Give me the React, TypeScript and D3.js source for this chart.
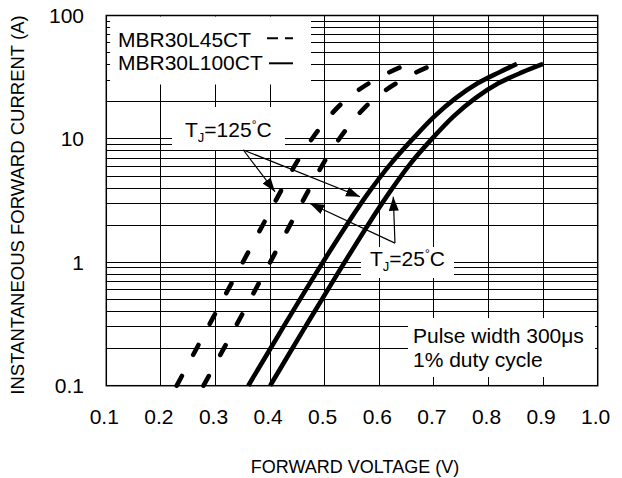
import React from "react";
import * as d3 from "d3";

// ---- data ----
const xTickValues = [0.1, 0.2, 0.3, 0.4, 0.5, 0.6, 0.7, 0.8, 0.9, 1.0];
const xTickLabels = ["0.1", "0.2", "0.3", "0.4", "0.5", "0.6", "0.7", "0.8", "0.9", "1.0"];
const yTickValues = [0.1, 1, 10, 100];
const yTickLabels = ["0.1", "1", "10", "100"];

const currents = [0.1, 0.278, 0.762, 2.0, 3.65, 6.22, 9.86, 15.1, 21.4, 28.2, 34.7, 40.5];
const l100ct125V = [0.36, 0.42, 0.48, 0.54, 0.58, 0.62, 0.66, 0.70, 0.74, 0.78, 0.82, 0.852];
const l100ct25V = [0.40, 0.46, 0.52, 0.579, 0.618, 0.656, 0.695, 0.735, 0.776, 0.818, 0.862, 0.90];

const currents45 = [0.1, 0.219, 0.468, 1.0, 2.14, 3.8, 6.61, 10.5, 15.5, 21.9, 31.6, 40.5];
const l45ct125V = [0.229, 0.27, 0.31, 0.35, 0.39, 0.42, 0.45, 0.48, 0.51, 0.545, 0.60, 0.653];
const l45ct25V = [0.278, 0.32, 0.36, 0.40, 0.44, 0.47, 0.50, 0.53, 0.56, 0.595, 0.65, 0.702];

// arrow annotations [fromV, fromI, toV, toI]
const arrows125 = [
  [0.351, 8.13, 0.409, 3.73],
  [0.351, 8.13, 0.5646, 3.4],
];
const arrows25 = [
  [0.6287, 1.43, 0.4731, 3.0],
  [0.6287, 1.43, 0.6256, 3.4],
];

const FONT = "'Liberation Sans', Arial, Helvetica, sans-serif";

export default function App() {
  const W = 622, H = 478;
  const left = 106.3, right = 597.7, top = 15.5, bottom = 385.7;
  const x = d3.scaleLinear().domain([0.1, 1.0]).range([left, right]);
  const y = d3.scaleLog().domain([0.1, 100]).range([bottom, top]);

  const line = d3
    .line<[number, number]>()
    .x((d) => x(d[0]))
    .y((d) => y(d[1]))
    .curve(d3.curveCatmullRom.alpha(0.5));

  const zip = (vs: number[], is: number[]) => vs.map((v, i) => [v, is[i]] as [number, number]);

  const hGrid: number[] = [];
  [0.1, 1, 10].forEach((dec) => {
    for (let k = 1; k <= 9; k++) hGrid.push(dec * k);
  });
  const vGrid = xTickValues.slice(1, -1);

  return (
    <svg
      width={W}
      height={H}
      style={{ position: "absolute", left: 0, top: 0, background: "#fff" }}
      fontFamily={FONT}
    >
      <defs>
        <marker
          id="ah"
          markerUnits="userSpaceOnUse"
          markerWidth={15}
          markerHeight={11}
          refX={14}
          refY={5}
          orient="auto"
        >
          <path d="M0,0 L14,5 L0,10 Z" fill="#000" />
        </marker>
      </defs>
      <rect x={0} y={0} width={W} height={H} fill="#fff" />
      {/* grid */}
      <g stroke="#000" strokeWidth={1} shapeRendering="crispEdges">
        {hGrid.map((v, i) => (
          <line key={"h" + i} x1={left} x2={right} y1={y(v)} y2={y(v)} />
        ))}
        {vGrid.map((v, i) => (
          <line key={"v" + i} x1={x(v)} x2={x(v)} y1={top} y2={bottom} />
        ))}
      </g>
      {/* white label boxes */}
      <g fill="#fff">
        <rect x={110} y={top + 1} width={201} height={68} />
        <rect x={172} y={107} width={113} height={43} />
        <rect x={361} y={247} width={93} height={31} />
        <rect x={408} y={318} width={187} height={59} />
      </g>
      {/* curves */}
      <g fill="none" stroke="#000" strokeWidth={4.6}>
        <path d={line(zip(l100ct125V, currents)) || ""} />
        <path d={line(zip(l100ct25V, currents)) || ""} />
        <path
          d={line(zip(l45ct125V, currents45)) || ""}
          strokeDasharray="11 24"
          strokeLinecap="round"
        />
        <path
          d={line(zip(l45ct25V, currents45)) || ""}
          strokeDasharray="11 24"
          strokeLinecap="round"
        />
      </g>
      {/* arrows */}
      <g stroke="#000" strokeWidth={1.2}>
        {[...arrows125, ...arrows25].map((a, i) => (
          <line
            key={"a" + i}
            x1={x(a[0])}
            y1={y(a[1])}
            x2={x(a[2])}
            y2={y(a[3])}
            markerEnd="url(#ah)"
          />
        ))}
      </g>
      {/* frame */}
      <rect
        x={left}
        y={top}
        width={right - left}
        height={bottom - top}
        fill="none"
        stroke="#000"
        strokeWidth={1.5}
      />
      {/* legend */}
      <g fontSize={21} fill="#000">
        <text x={118} y={46.5}>MBR30L45CT</text>
        <text x={118} y={70}>MBR30L100CT</text>
      </g>
      <line x1={267} x2={293} y1={38.3} y2={38.3} stroke="#000" strokeWidth={2} strokeDasharray="11 7" />
      <line x1={269} x2={293} y1={63.3} y2={63.3} stroke="#000" strokeWidth={2} />
      {/* annotations */}
      <text x={185} y={136.5} fontSize={21}>
        T<tspan fontSize={13} dy={5}>J</tspan>
        <tspan dy={-5}>=125</tspan>
        <tspan fontSize={12} dy={-8}>°</tspan>
        <tspan dy={8}>C</tspan>
      </text>
      <text x={370} y={265.5} fontSize={21}>
        T<tspan fontSize={13} dy={5}>J</tspan>
        <tspan dy={-5}>=25</tspan>
        <tspan fontSize={12} dy={-8}>°</tspan>
        <tspan dy={8}>C</tspan>
      </text>
      <text x={413} y={343} fontSize={21}>Pulse width 300μs</text>
      <text x={413} y={366.5} fontSize={21}>1% duty cycle</text>
      {/* axes ticks */}
      <g fontSize={21} fill="#000">
        {xTickValues.map((v, i) => (
          <text key={"xt" + i} x={x(v) - 2} y={424} textAnchor="middle">
            {xTickLabels[i]}
          </text>
        ))}
        {yTickValues.map((v, i) => (
          <text key={"yt" + i} x={84} y={y(v) + 7.5} textAnchor="end">
            {yTickLabels[i]}
          </text>
        ))}
      </g>
      <text x={355} y={473} fontSize={18} textAnchor="middle">
        FORWARD VOLTAGE (V)
      </text>
      <text
        transform="translate(24,205) rotate(-90)"
        fontSize={18.5}
        textAnchor="middle"
      >
        INSTANTANEOUS FORWARD CURRENT (A)
      </text>
    </svg>
  );
}
